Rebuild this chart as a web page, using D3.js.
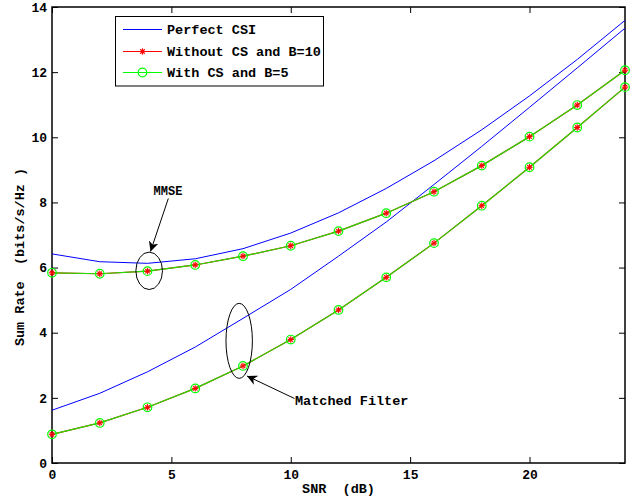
<!DOCTYPE html>
<html>
<head>
<meta charset="utf-8">
<script src="https://cdn.jsdelivr.net/npm/d3@7"></script>
<style>
  html, body { margin: 0; padding: 0; background: #fff; }
  svg { display: block; }
  text { font-family: "Liberation Mono", "Courier New", monospace; font-weight: bold; fill: #000; }
</style>
</head>
<body>
<svg id="chart" width="640" height="497"></svg>
<script>
// SNR grid (dB)
const snr = [0, 2, 4, 6, 8, 10, 12, 14, 16, 18, 20, 22, 24];

// Perfect CSI curves
const perfectMMSE = [6.42, 6.18, 6.13, 6.27, 6.58, 7.06, 7.68, 8.43, 9.28, 10.23, 11.27, 12.39, 13.59];
const perfectMF   = [1.62, 2.14, 2.80, 3.56, 4.44, 5.33, 6.35, 7.40, 8.55, 9.72, 10.92, 12.13, 13.35];

// Limited feedback curves (the two schemes coincide)
const noCsMMSE = [5.84, 5.81, 5.89, 6.08, 6.35, 6.67, 7.12, 7.67, 8.33, 9.13, 10.02, 10.99, 12.06];
const noCsMF   = [0.88, 1.23, 1.71, 2.29, 2.98, 3.79, 4.70, 5.70, 6.75, 7.90, 9.08, 10.30, 11.54];
const csMMSE   = [5.84, 5.81, 5.89, 6.08, 6.35, 6.67, 7.12, 7.67, 8.33, 9.13, 10.02, 10.99, 12.06];
const csMF     = [0.88, 1.23, 1.71, 2.29, 2.98, 3.79, 4.70, 5.70, 6.75, 7.90, 9.08, 10.30, 11.54];

const xTicks = [0, 5, 10, 15, 20];
const yTicks = [0, 2, 4, 6, 8, 10, 12, 14];
const legendLabels = ["Perfect CSI", "Without CS and B=10", "With CS and B=5"];

const svg = d3.select("#chart");
const plot = { left: 52, right: 625, top: 7, bottom: 463 };

const x = d3.scaleLinear().domain([0, 24]).range([plot.left, plot.right]);
const y = d3.scaleLinear().domain([0, 14]).range([plot.bottom, plot.top]);

const line = d3.line().x((d, i) => x(snr[i])).y(d => y(d));

// axes with inward ticks
const tickLen = 6;
const gx = svg.append("g").attr("transform", `translate(0,${plot.bottom})`)
  .call(d3.axisBottom(x).tickValues(xTicks).tickSize(-tickLen).tickPadding(7).tickSizeOuter(0));
const gxTop = svg.append("g").attr("transform", `translate(0,${plot.top})`)
  .call(d3.axisTop(x).tickValues(xTicks).tickSize(-tickLen).tickFormat("").tickSizeOuter(0));
const gy = svg.append("g").attr("transform", `translate(${plot.left},0)`)
  .call(d3.axisLeft(y).tickValues(yTicks).tickSize(-tickLen).tickPadding(5).tickSizeOuter(0));
const gyRight = svg.append("g").attr("transform", `translate(${plot.right},0)`)
  .call(d3.axisRight(y).tickValues(yTicks).tickSize(-tickLen).tickFormat("").tickSizeOuter(0));

[gx, gxTop, gy, gyRight].forEach(g => {
  g.select(".domain").remove();
  g.selectAll(".tick line").attr("stroke", "#000").attr("stroke-width", 1);
  g.selectAll("text").attr("font-size", 13).attr("font-family", "Liberation Mono, monospace")
    .attr("font-weight", "bold").attr("fill", "#000");
});

// frame
svg.append("rect")
  .attr("x", plot.left).attr("y", plot.top)
  .attr("width", plot.right - plot.left).attr("height", plot.bottom - plot.top)
  .attr("fill", "none").attr("stroke", "#000").attr("stroke-width", 1.5);

// axis titles
svg.append("text")
  .attr("x", x(12)).attr("y", 493)
  .attr("text-anchor", "middle").attr("font-size", 13.5)
  .style("white-space", "pre")
  .text("SNR  (dB)");
svg.append("text")
  .attr("transform", `translate(24,257) rotate(-90)`)
  .attr("text-anchor", "middle").attr("font-size", 13.5)
  .style("white-space", "pre")
  .text("Sum Rate  (bits/s/Hz )");

// curves
const curves = svg.append("g");
[perfectMMSE, perfectMF].forEach(s => {
  curves.append("path").datum(s).attr("d", line)
    .attr("fill", "none").attr("stroke", "#0000ff").attr("stroke-width", 1);
});
[noCsMMSE, noCsMF].forEach(s => {
  curves.append("path").datum(s).attr("d", line)
    .attr("fill", "none").attr("stroke", "#ff0000").attr("stroke-width", 1.2);
});
[csMMSE, csMF].forEach(s => {
  curves.append("path").datum(s).attr("d", line)
    .attr("fill", "none").attr("stroke", "#22dd00").attr("stroke-width", 1.2);
});

// markers
function star(g, cx, cy, r) {
  const p = g.append("g").attr("transform", `translate(${cx},${cy})`)
    .attr("stroke", "#ff0000").attr("stroke-width", 1.1);
  [0, 45, 90, 135].forEach(a => {
    const rad = a * Math.PI / 180;
    p.append("line")
      .attr("x1", -r * Math.cos(rad)).attr("y1", -r * Math.sin(rad))
      .attr("x2", r * Math.cos(rad)).attr("y2", r * Math.sin(rad));
  });
}
const marks = svg.append("g");
[noCsMMSE, noCsMF].forEach(s => {
  s.forEach((v, i) => star(marks, x(snr[i]), y(v), 3.2));
});
[csMMSE, csMF].forEach(s => {
  s.forEach((v, i) => {
    marks.append("circle").attr("cx", x(snr[i])).attr("cy", y(v)).attr("r", 4.3)
      .attr("fill", "none").attr("stroke", "#00ff00").attr("stroke-width", 1.2);
  });
});

// annotations
svg.append("defs").append("marker")
  .attr("id", "arrowhead").attr("viewBox", "0 0 10 10")
  .attr("refX", 10).attr("refY", 5)
  .attr("markerWidth", 10).attr("markerHeight", 10)
  .attr("markerUnits", "userSpaceOnUse")
  .attr("orient", "auto")
  .append("path").attr("d", "M0,0 L10,5 L0,10 L3,5 Z").attr("fill", "#000");

const ann = svg.append("g");
// MMSE group
ann.append("ellipse").attr("cx", x(4.07)).attr("cy", y(5.9)).attr("rx", 13.3).attr("ry", 18.7)
  .attr("fill", "none").attr("stroke", "#000").attr("stroke-width", 1);
ann.append("line").attr("x1", 168.3).attr("y1", 198.5).attr("x2", 150.5).attr("y2", 251.5)
  .attr("stroke", "#000").attr("stroke-width", 1).attr("marker-end", "url(#arrowhead)");
ann.append("text").attr("x", 168).attr("y", 195).attr("text-anchor", "middle")
  .attr("font-size", 12).text("MMSE");
// Matched filter group
ann.append("ellipse").attr("cx", x(7.84)).attr("cy", y(3.75)).attr("rx", 13.2).attr("ry", 37.5)
  .attr("fill", "none").attr("stroke", "#000").attr("stroke-width", 1);
ann.append("line").attr("x1", 294.5).attr("y1", 398.5).attr("x2", 247).attr("y2", 376)
  .attr("stroke", "#000").attr("stroke-width", 1).attr("marker-end", "url(#arrowhead)");
ann.append("text").attr("x", 295).attr("y", 405).attr("font-size", 13.5).text("Matched Filter");

// legend
const lg = svg.append("g");
lg.append("rect").attr("x", 115.5).attr("y", 16.5).attr("width", 208).attr("height", 69.5)
  .attr("fill", "#fff").attr("stroke", "#000").attr("stroke-width", 1);
const rows = [29.5, 51.5, 72.5];
const lColors = ["#0000ff", "#ff0000", "#00ff00"];
rows.forEach((ry, i) => {
  lg.append("line").attr("x1", 123).attr("x2", 162).attr("y1", ry).attr("y2", ry)
    .attr("stroke", lColors[i]).attr("stroke-width", 1);
  lg.append("text").attr("x", 167).attr("y", ry + 4.5).attr("font-size", 13.5).text(legendLabels[i]);
});
star(lg, 142.5, rows[1], 3.2);
lg.append("circle").attr("cx", 142.5).attr("cy", rows[2]).attr("r", 4.3)
  .attr("fill", "none").attr("stroke", "#00ff00").attr("stroke-width", 1.2);
</script>
</body>
</html>
